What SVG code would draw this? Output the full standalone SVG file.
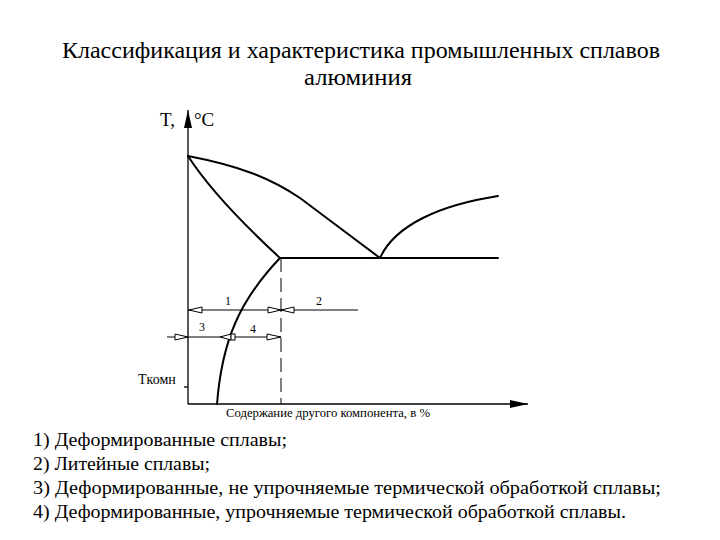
<svg xmlns="http://www.w3.org/2000/svg" width="720" height="540" viewBox="0 0 720 540">
<style>
text{font-family:"Liberation Serif","DejaVu Serif","Times New Roman",serif;fill:#000}
.title{font-size:23px;text-anchor:middle}
.list{font-size:18px}
.lbl{font-size:12px}
.ax{stroke:#000;stroke-width:1.3;fill:none}
.cv{stroke:#000;stroke-width:2;fill:none;stroke-linecap:round}
.dim{stroke:#000;stroke-width:1;fill:none}
.ah{stroke:#000;stroke-width:1;fill:#fff}
</style>
<defs>
<marker id="axarrow" markerWidth="18" markerHeight="8" refX="18" refY="4" orient="auto" markerUnits="userSpaceOnUse">
<path d="M0,0 L18,4 L0,8 Z" fill="#000"/>
</marker>
</defs>
<rect width="720" height="540" fill="#fff"/>
<g id="title" font-family="Liberation Serif, DejaVu Serif, serif">
<text class="title" x="361" y="58" textLength="598" lengthAdjust="spacingAndGlyphs">Классификация и характеристика промышленных сплавов</text>
<text class="title" x="358" y="85" textLength="108" lengthAdjust="spacingAndGlyphs">алюминия</text>
</g>
<g id="axes" font-family="Liberation Serif, DejaVu Serif, serif">
<line class="ax" x1="188" y1="404" x2="188" y2="110" marker-end="url(#axarrow)"/>
<line class="ax" x1="188" y1="404" x2="528" y2="404" marker-end="url(#axarrow)"/>
<line class="ax" x1="184" y1="387" x2="188" y2="387"/>
<text x="160" y="126" style="font-size:19px">T,</text>
<text x="194" y="126" style="font-size:19px">°C</text>
<text x="138" y="384" style="font-size:14px">Tкомн</text>
<text class="lbl" x="226" y="417" textLength="204" lengthAdjust="spacingAndGlyphs">Содержание другого компонента, в %</text>
</g>
<g id="curves">
<path class="cv" d="M188,156 C240,166 270,178 300,198 L380,258"/>
<path class="cv" d="M188,156 Q215,198 280,258"/>
<path class="cv" d="M380,258 C395,225 440,205 498,196"/>
<path class="cv" d="M280,258 L498,258"/>
<path class="cv" d="M280,258 C240,300 222,340 217,404"/>
</g>
<g id="connectors">
<line class="dim" x1="281" y1="258" x2="281" y2="404" stroke-width="1.3" stroke-dasharray="14,6"/>
<line class="dim" x1="188" y1="310" x2="358" y2="310"/>
<polygon class="ah" points="189,310 202,307 202,313"/>
<polygon class="ah" points="281,310 268,307 268,313"/>
<polygon class="ah" points="281,310 294,307 294,313"/>
<line class="dim" x1="167" y1="337" x2="281" y2="337"/>
<polygon class="ah" points="188,337 175,334 175,340"/>
<polygon class="ah" points="220,337 231,334 231,340"/>
<rect class="ah" x="231" y="334" width="4" height="6"/>
<polygon class="ah" points="281,337 267,334 267,340"/>
</g>
<g id="labels" font-family="Liberation Serif, DejaVu Serif, serif">
<text class="lbl" x="225" y="305">1</text>
<text class="lbl" x="316" y="305">2</text>
<text class="lbl" x="199" y="331">3</text>
<text class="lbl" x="250" y="333">4</text>
</g>
<g id="legend" font-family="Liberation Serif, DejaVu Serif, serif">
<text class="list" x="33" y="446" textLength="254" lengthAdjust="spacingAndGlyphs">1) Деформированные сплавы;</text>
<text class="list" x="33" y="470" textLength="177" lengthAdjust="spacingAndGlyphs">2) Литейные сплавы;</text>
<text class="list" x="33" y="494" textLength="628" lengthAdjust="spacingAndGlyphs">3) Деформированные, не упрочняемые термической обработкой сплавы;</text>
<text class="list" x="33" y="518" textLength="593" lengthAdjust="spacingAndGlyphs">4) Деформированные, упрочняемые термической обработкой сплавы.</text>
</g>
</svg>
